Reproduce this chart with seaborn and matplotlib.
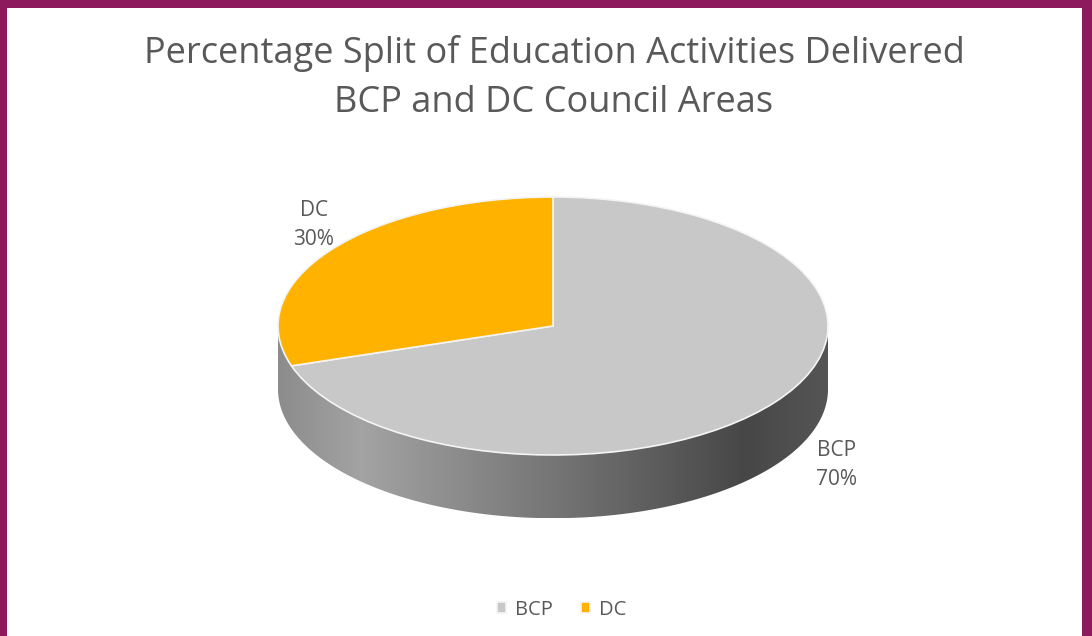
import numpy as np
import matplotlib
matplotlib.use("Agg")
import matplotlib.pyplot as plt
from matplotlib.patches import Polygon
from matplotlib.colors import LinearSegmentedColormap
import seaborn as sns

# data
areas = ["BCP", "DC"]
shares = [70, 30]
area_colors = ["#c8c8c8", "#ffb300"]
title = "Percentage Split of Education Activities Delivered\nBCP and DC Council Areas"

sns.set_theme(style="white")
plt.rcParams["font.family"] = ["Open Sans", "DejaVu Sans"]
text_color = "#595959"

W, H = 1092, 636
fig = plt.figure(figsize=(W / 100, H / 100), dpi=100)
fig.patch.set_facecolor("#8e1a5e")

# white card inside the purple frame
card = fig.add_axes([7 / W, 0, (1082 - 7) / W, (H - 8) / H])
card.set_facecolor("white")
card.set_xticks([])
card.set_yticks([])
for s in card.spines.values():
    s.set_visible(False)

# pie axes: unit circle -> ellipse of 275 x 129 px centred at (553, 326)
cx, cy, rx, ry = 553, 326, 275, 129
depth = 0.49
xlo, xhi = -1.25, 1.25
ylo, yhi = -2.2, 1.3
left = cx + xlo * rx
top = cy - yhi * ry
ax = fig.add_axes([left / W, 1 - (top + (yhi - ylo) * ry) / H,
                   (xhi - xlo) * rx / W, (yhi - ylo) * ry / H])
ax.patch.set_visible(False)

# side of the disc (front half), grey gradient
th = np.linspace(np.pi, 2 * np.pi, 200)
side = np.concatenate([np.c_[np.cos(th), np.sin(th)],
                       np.c_[np.cos(th[::-1]), np.sin(th[::-1]) - depth]])
poly = Polygon(side, closed=True, facecolor="none", edgecolor="none")
ax.add_patch(poly)
shade = LinearSegmentedColormap.from_list(
    "side", [(0, "#8c8c8c"), (0.15, "#a3a3a3"), (0.45, "#7c7c7c"),
             (0.85, "#474747"), (1, "#555555")])
grad = np.linspace(0, 1, 256)[None, :]
im = ax.imshow(grad, cmap=shade, extent=(-1, 1, -1 - depth, 0),
               aspect="auto", zorder=1)
im.set_clip_path(poly)

wedges, _ = ax.pie(shares, colors=area_colors, startangle=90, counterclock=False,
                   wedgeprops=dict(edgecolor="#f4f4f4", linewidth=1.2))
for w in wedges:
    w.set_zorder(2)
ax.set_aspect("auto")
ax.set_xlim(xlo, xhi)
ax.set_ylim(ylo, yhi)
ax.axis("off")

# data labels
label_pos = {"BCP": (1.03, -1.08), "DC": (-0.87, 0.78)}
for name, val in zip(areas, shares):
    x, y = label_pos[name]
    ax.text(x, y, f"{name}\n{val}%", ha="center", va="center", fontsize=15,
            color=text_color, linespacing=1.5)

fig.text(554 / W, 1 - 78 / H, title, ha="center", va="center", fontsize=26,
         color=text_color, linespacing=1.45)

fig.legend(wedges, areas, loc="center", bbox_to_anchor=(562 / W, 1 - 610 / H),
           ncol=2, frameon=False, fontsize=14.5, handlelength=0.45,
           handleheight=0.45, handletextpad=0.45, columnspacing=1.4,
           labelcolor=text_color)

fig.savefig("out.png", dpi=100)
